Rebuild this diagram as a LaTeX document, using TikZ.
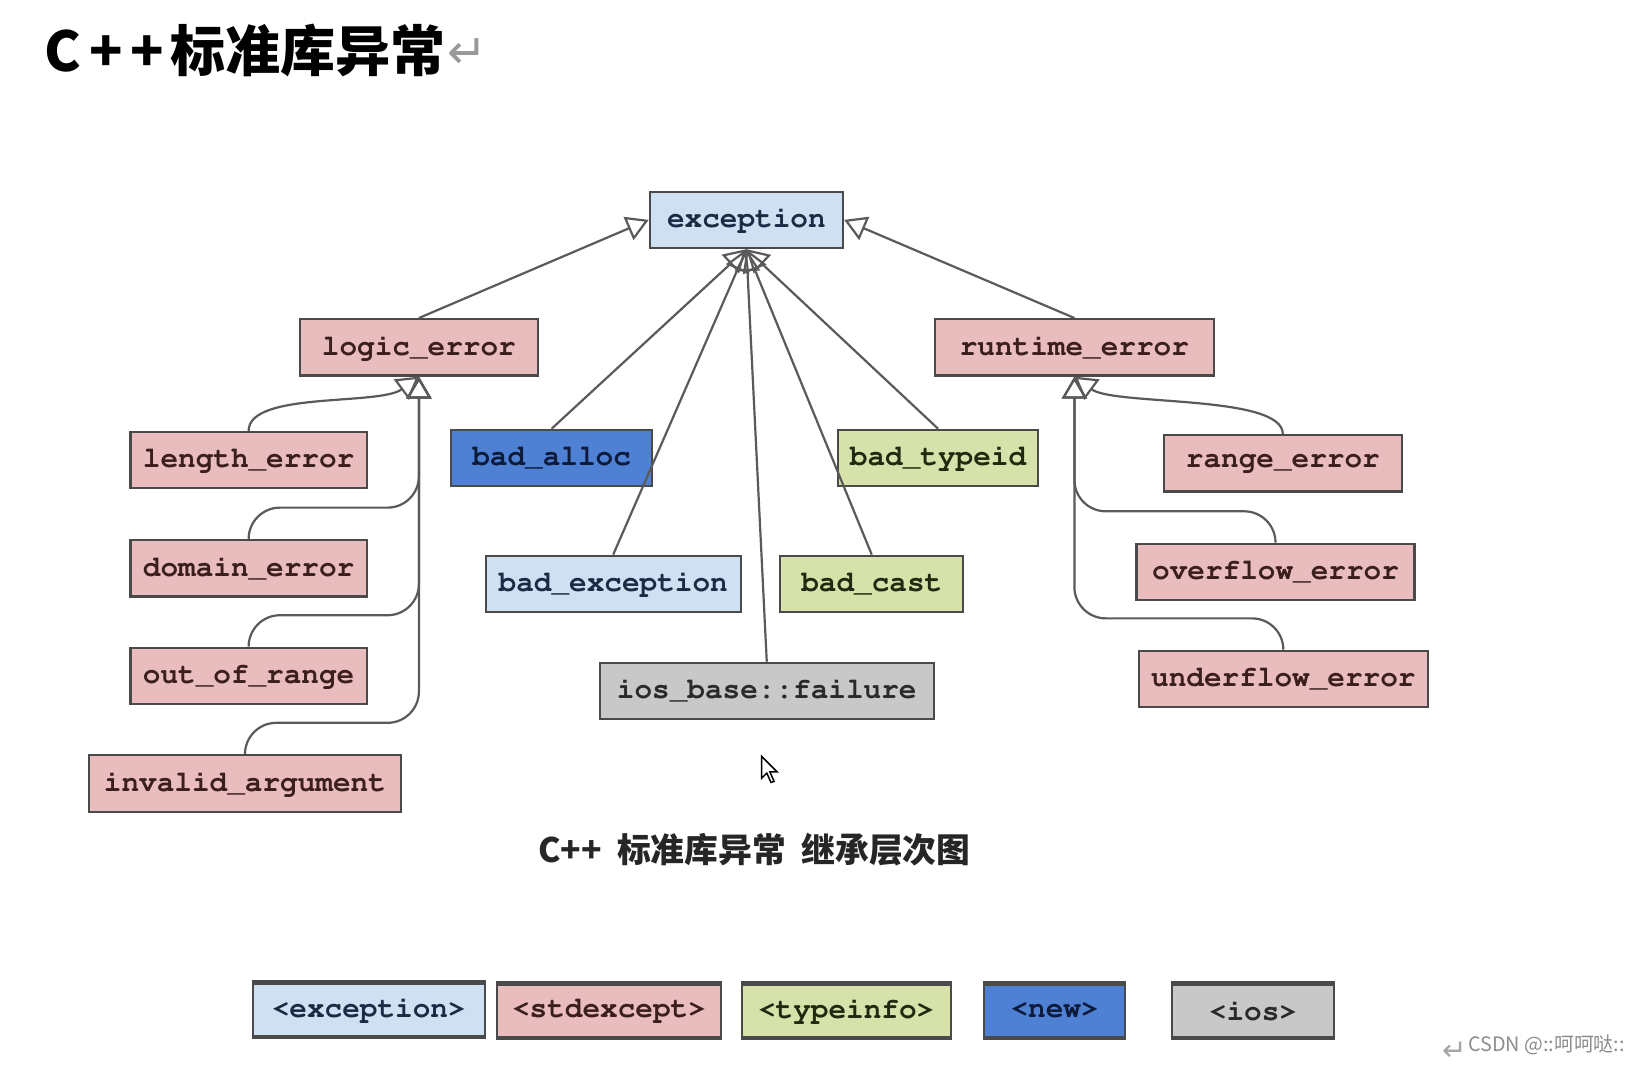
\documentclass[tikz,border=0pt]{standalone}
\usepackage[T1]{fontenc}
\usepackage{fontspec}
\newfontfamily\cjkfont{Noto Sans CJK SC}
\newfontfamily\symfont{DejaVu Sans}
\usetikzlibrary{arrows.meta}

\definecolor{excfill}{HTML}{CFE0F3}
\definecolor{stdfill}{HTML}{E9BCBD}
\definecolor{tinffill}{HTML}{D6E2AA}
\definecolor{newfill}{HTML}{4E80D4}
\definecolor{iosfill}{HTML}{C8C8C8}
\definecolor{boxline}{HTML}{4A4A4A}
\definecolor{edgegray}{HTML}{5A5A5A}
\definecolor{exctext}{HTML}{1C2A44}
\definecolor{stdtext}{HTML}{3B1F1F}
\definecolor{tinftext}{HTML}{1F2A10}
\definecolor{newtext}{HTML}{0D1A3A}
\definecolor{iostext}{HTML}{2A2A2A}

\newcommand{\clsfont}{\fontencoding{T1}\fontfamily{pcr}\fontseries{b}\fontshape{n}\fontsize{8}{9}\selectfont}

\tikzset{
  cls/.style={draw=boxline, line width=0.6pt, inner sep=0pt, minimum height=5.4mm, font=\clsfont},
  exc/.style={cls, fill=excfill, text=exctext},
  std/.style={cls, fill=stdfill, text=stdtext},
  tinf/.style={cls, fill=tinffill, text=tinftext},
  newc/.style={cls, fill=newfill, text=newtext},
  iosc/.style={cls, fill=iosfill, text=iostext},
  lgd/.style={path picture={\draw[boxline, line width=1.8pt]
      (path picture bounding box.north west) -- (path picture bounding box.north east)
      (path picture bounding box.south west) -- (path picture bounding box.south east);}},
  inh/.style={draw=edgegray, line width=0.6pt, -{Triangle[open, length=2.1mm, width=2.4mm]}},
}

\begin{document}
\begin{tikzpicture}[x=0.1mm, y=-0.1mm]
			%%%%% FRAME %%%%%
			\useasboundingbox (0,0) rectangle (1568,1019);
			
			%%%%% TITLE %%%%%
			\node[anchor=west, inner sep=0pt, font=\cjkfont\bfseries\fontsize{15}{18}\selectfont] (title) at (42,48) {C\kern0.14em+\kern0.14em+\kern0.12em标准库异常};
			\node[anchor=west, inner sep=0pt, text=black!40, font=\symfont\fontsize{13}{15}\selectfont] (titlemark) at ([yshift=-0.3mm]title.east) {↵};
			
			%%%%% CLASSES %%%%%
			\node[exc, minimum width=18.5mm] (exc) at (714.5,210.5) {exception};
			
			\node[std, minimum width=22.8mm] (logic) at (401,332.5) {logic\_error};
			\node[std, minimum width=26.7mm] (runtime) at (1028.5,332.5) {runtime\_error};
			
			\node[std, minimum width=22.6mm] (len) at (238,440.5) {length\_error};
			\node[std, minimum width=22.6mm] (dom) at (238,544) {domain\_error};
			\node[std, minimum width=22.6mm] (oor) at (238,647) {out\_of\_range};
			\node[std, minimum width=29.9mm] (inv) at (234.5,750) {invalid\_argument};
			
			\node[newc, minimum width=19.2mm] (balloc) at (528,438.5) {bad\_alloc};
			\node[tinf, minimum width=19.2mm] (btypeid) at (898,438.5) {bad\_typeid};
			\node[exc, minimum width=24.4mm] (bexc) at (587,559) {bad\_exception};
			\node[tinf, minimum width=17.5mm] (bcast) at (834.5,559) {bad\_cast};
			\node[iosc, minimum width=32mm] (iosf) at (734,661.5) {ios\_base::failure};
			
			\node[std, minimum width=22.8mm] (rng) at (1228,443.5) {range\_error};
			\node[std, minimum width=26.6mm] (ovf) at (1221,547.5) {overflow\_error};
			\node[std, minimum width=27.7mm] (unf) at (1228.5,650) {underflow\_error};
			
			%%%%% INHERITANCE %%%%%
			\draw[inh] (logic.north) -- (exc.west);
			\draw[inh] (runtime.north) -- (exc.east);
			\draw[inh] (balloc.north) -- (exc.south);
			\draw[inh] (bexc.north) -- (exc.south);
			\draw[inh] (iosf.north) -- (exc.south);
			\draw[inh] (bcast.north) -- (exc.south);
			\draw[inh] (btypeid.north) -- (exc.south);
			
			\draw[inh] (len.north) .. controls +(0,-38) and +(-38,28) .. (logic.south);
			\draw[inh, rounded corners=3mm] (dom.north) -- ++(0,-30) -| (logic.south);
			\draw[inh, rounded corners=3mm] (oor.north) -- ++(0,-30) -| (logic.south);
			\draw[inh, rounded corners=3mm] (inv.north) -- ++(0,-30) -| (logic.south);
			
			\draw[inh] (rng.north) .. controls +(0,-38) and +(38,28) .. (runtime.south);
			\draw[inh, rounded corners=3mm] (ovf.north) -- ++(0,-30) -| (runtime.south);
			\draw[inh, rounded corners=3mm] (unf.north) -- ++(0,-30) -| (runtime.south);
			
			%%%%% POINTER %%%%%
			\draw[fill=white, line width=0.4pt] (729,724) -- (729,745) -- (734,740) -- (738,749) -- (741,748) -- (737,739) -- (744,739) -- cycle;
			
			%%%%% CAPTION %%%%%
			\node[font=\cjkfont\bfseries\fontsize{9.2}{11}\selectfont, text=black!85] (caption) at (722,813) {C++\ \ 标准库异常\ \ 继承层次图};
			
			%%%%% HEADERS %%%%%
			\node[exc, lgd, minimum width=22.2mm] (hexc) at (353,966.5) {<exception>};
			\node[std, lgd, minimum width=21.4mm] (hstd) at (583,967.5) {<stdexcept>};
			\node[tinf, lgd, minimum width=20mm] (htinf) at (810,967.5) {<typeinfo>};
			\node[newc, lgd, minimum width=13.5mm] (hnew) at (1009.5,967.5) {<new>};
			\node[iosc, lgd, minimum width=15.5mm] (hios) at (1199.5,967.5) {<ios>};
			
			%%%%% MARK %%%%%
			\node[anchor=east, inner sep=0pt, text=black!45, font=\cjkfont\fontsize{5.4}{6}\selectfont] (mark) at (1556,1000) {CSDN @::呵呵哒::};
			\node[anchor=east, inner sep=0pt, text=black!35, font=\symfont\fontsize{8}{9}\selectfont] (markarrow) at ([yshift=-0.6mm]mark.west) {↵};
			
			%%%%% END %%%%%
		\end{tikzpicture}
\end{document}
